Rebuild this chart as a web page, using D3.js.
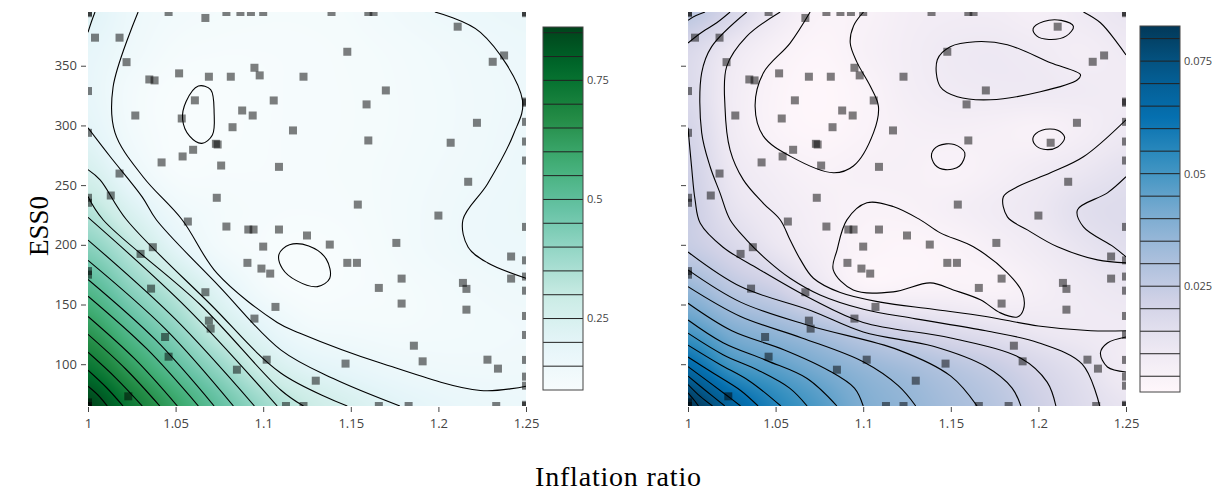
<!DOCTYPE html>
<html>
<head>
<meta charset="utf-8">
<script src="https://cdn.jsdelivr.net/npm/d3@7"></script>
<style>
  body { margin: 0; background: #fff; }
  svg { display: block; }
</style>
</head>
<body>
<svg id="chart" width="1212" height="492"></svg>
<script>
// ---- axes ----
const xDomain = [1, 1.25];
const yDomain = [65, 395];
const xTicks = [1, 1.05, 1.1, 1.15, 1.2, 1.25];
const yTicks = [100, 150, 200, 250, 300, 350];

// ---- response surfaces on a regular grid (rows: ESS0, cols: inflation ratio) ----
const gridX = [1.0, 1.025, 1.05, 1.075, 1.1, 1.125, 1.15, 1.175, 1.2, 1.225, 1.25];
const gridY = [65, 98, 131, 164, 197, 230, 263, 296, 329, 362, 395];

const zLeft = [
  [0.862, 0.728, 0.606, 0.488, 0.38, 0.297, 0.248, 0.21, 0.183, 0.167, 0.158],
  [0.74, 0.618, 0.499, 0.39, 0.275, 0.21, 0.18, 0.155, 0.143, 0.14, 0.142],
  [0.63, 0.51, 0.40, 0.28, 0.195, 0.135, 0.125, 0.12, 0.125, 0.13, 0.135],
  [0.525, 0.41, 0.31, 0.205, 0.125, 0.101, 0.106, 0.115, 0.125, 0.138, 0.147],
  [0.42, 0.32, 0.205, 0.13, 0.108, 0.099, 0.106, 0.122, 0.14, 0.153, 0.158],
  [0.33, 0.23, 0.148, 0.12, 0.11, 0.108, 0.112, 0.125, 0.14, 0.154, 0.162],
  [0.25, 0.16, 0.106, 0.106, 0.107, 0.11, 0.115, 0.123, 0.135, 0.147, 0.16],
  [0.20, 0.13, 0.099, 0.099, 0.106, 0.11, 0.113, 0.12, 0.13, 0.143, 0.155],
  [0.18, 0.125, 0.101, 0.101, 0.106, 0.11, 0.113, 0.12, 0.13, 0.142, 0.151],
  [0.185, 0.145, 0.115, 0.108, 0.108, 0.11, 0.115, 0.123, 0.135, 0.147, 0.157],
  [0.215, 0.155, 0.13, 0.12, 0.115, 0.115, 0.12, 0.135, 0.15, 0.16, 0.165]
];

const zRight = [
  [0.083, 0.068, 0.056, 0.048, 0.04, 0.036, 0.032, 0.028, 0.0225, 0.017, 0.013],
  [0.065, 0.051, 0.046, 0.0405, 0.0355, 0.032, 0.028, 0.024, 0.019, 0.0145, 0.009],
  [0.0475, 0.039, 0.0345, 0.0295, 0.0235, 0.019, 0.016, 0.0135, 0.011, 0.0098, 0.0095],
  [0.035, 0.027, 0.022, 0.0125, 0.0045, 0.0045, 0.005, 0.0045, 0.007, 0.01, 0.012],
  [0.0245, 0.019, 0.0125, 0.0075, 0.004, 0.003, 0.004, 0.0065, 0.0095, 0.013, 0.0155],
  [0.0235, 0.014, 0.0095, 0.0065, 0.0048, 0.0052, 0.0068, 0.009, 0.0115, 0.0155, 0.017],
  [0.022, 0.0115, 0.0072, 0.005, 0.0058, 0.006, 0.0048, 0.0065, 0.0092, 0.0118, 0.0145],
  [0.0202, 0.0095, 0.0042, 0.0025, 0.0042, 0.0062, 0.0068, 0.0062, 0.0052, 0.0075, 0.0105],
  [0.018, 0.009, 0.004, 0.002, 0.004, 0.0075, 0.0095, 0.0102, 0.0103, 0.0095, 0.009],
  [0.0185, 0.011, 0.0055, 0.003, 0.0055, 0.008, 0.0102, 0.0108, 0.0095, 0.008, 0.0098],
  [0.027, 0.0195, 0.0105, 0.0045, 0.005, 0.0075, 0.0085, 0.0085, 0.007, 0.01, 0.0125]
];

// colour bar ranges and labelled ticks
const leftRange = [0.10, 0.862];
const rightRange = [0.0015, 0.0828];
const leftLevels = d3.range(3, 18).map(k => k * 0.05);        // 0.15 ... 0.85
const rightLevels = d3.range(1, 17).map(k => k * 0.005);      // 0.005 ... 0.08
const leftBarTicks = [0.25, 0.5, 0.75];
const rightBarTicks = [0.025, 0.05, 0.075];

// ColorBrewer sequential stops
const bugn = ["#f7fcfd", "#e5f5f9", "#ccece6", "#99d8c9", "#66c2a4", "#41ae76", "#238b45", "#006d2c", "#00441b"];
const pubu = ["#fff7fb", "#ece7f2", "#d0d1e6", "#a6bddb", "#74a9cf", "#3690c0", "#0570b0", "#045a8d", "#023858"];

// ---- iso-lines (inflation ratio, ESS0) ----
const leftLines = [
  { level: 0.85, pts: [[1, 68], [1.001, 66.5], [1.002, 65]] },
  { level: 0.80, pts: [[1, 81.5], [1.0058, 74], [1.011, 65]] },
  { level: 0.75, pts: [[1, 95], [1.0105, 80.5], [1.020, 65]] },
  { level: 0.70, pts: [[1, 110], [1.0162, 88], [1.031, 65]] },
  { level: 0.65, pts: [[1, 125], [1.0215, 96], [1.041, 65]] },
  { level: 0.60, pts: [[1, 140], [1.027, 104], [1.051, 65]] },
  { level: 0.55, pts: [[1, 157], [1.0335, 113], [1.063, 65]] },
  { level: 0.50, pts: [[1, 171], [1.0385, 120.5], [1.072, 65]] },
  { level: 0.45, pts: [[1, 187], [1.0445, 129], [1.083, 65]] },
  { level: 0.40, pts: [[1, 204], [1.050, 137.5], [1.095, 65]] },
  { level: 0.35, pts: [[1, 223], [1.0565, 147], [1.108, 65]] },
  { level: 0.30, pts: [[1, 240.4], [1.0086, 221], [1.064, 150], [1.11, 78.4], [1.123, 65]] },
  { level: 0.25, pts: [[1, 263], [1.0069, 254.4], [1.022, 221], [1.07, 150], [1.11, 92.7], [1.148, 65]] },
  { level: 0.20, pts: [[1, 298], [1.0126, 274], [1.031, 240], [1.039, 221], [1.075, 165], [1.11, 112], [1.14, 88], [1.178, 65]] },
  { level: 0.20, pts: [[1, 378], [1.002, 387], [1.004, 395]] },
  { level: 0.15, pts: [[1.0286, 395], [1.0143, 332], [1.0154, 294], [1.0314, 257], [1.0537, 221], [1.0737, 176], [1.108, 135], [1.121, 126], [1.167, 101], [1.224, 78], [1.25, 81.6]] },
  { level: 0.15, pts: [[1.198, 395], [1.224, 378], [1.248, 321], [1.243, 293], [1.228, 251], [1.214, 221], [1.217, 198], [1.228, 185], [1.25, 172]] },
  { level: 0.10, closed: true, pts: [[1.054, 305], [1.056, 320], [1.063, 333], [1.070, 330], [1.072, 310], [1.071, 292], [1.065, 285], [1.058, 291]] },
  { level: 0.10, closed: true, pts: [[1.109, 192], [1.115, 200], [1.126, 199], [1.136, 188], [1.138, 172], [1.131, 165], [1.119, 170], [1.111, 180]] }
];

const rightLines = [
  { level: 0.08, pts: [[1, 76], [1.004, 69], [1.006, 65]] },
  { level: 0.075, pts: [[1, 83], [1.007, 73], [1.014, 65]] },
  { level: 0.07, pts: [[1, 90], [1.01, 78], [1.021, 65]] },
  { level: 0.065, pts: [[1, 98], [1.012, 85], [1.022, 74], [1.03, 65]] },
  { level: 0.06, pts: [[1, 106], [1.015, 92], [1.03, 78], [1.04, 65]] },
  { level: 0.055, pts: [[1, 116], [1.018, 100], [1.035, 86], [1.053, 65]] },
  { level: 0.05, pts: [[1, 126], [1.02, 108], [1.04, 95], [1.058, 80], [1.068, 65]] },
  { level: 0.045, pts: [[1, 137], [1.02, 118], [1.045, 103], [1.068, 88], [1.085, 65]] },
  { level: 0.04, pts: [[1, 151], [1.025, 128], [1.055, 112], [1.08, 95], [1.095, 80], [1.10, 65]] },
  { level: 0.035, pts: [[1, 165], [1.03, 140], [1.065, 122], [1.1, 102], [1.12, 82], [1.13, 65]] },
  { level: 0.03, pts: [[1, 179], [1.03, 152], [1.07, 132], [1.12, 112], [1.15, 90], [1.165, 65]] },
  { level: 0.025, pts: [[1, 194], [1.03, 165], [1.07, 145], [1.1, 127], [1.14, 115], [1.17, 98], [1.185, 80], [1.19, 65]] },
  { level: 0.02, pts: [[1, 298], [1.002, 266], [1.004, 238], [1.007, 218], [1.02, 198], [1.04, 180], [1.07, 155], [1.1, 135], [1.15, 122], [1.19, 105], [1.205, 85], [1.21, 65]] },
  { level: 0.015, pts: [[1.0335, 395], [1.0135, 366], [1.0078, 344], [1.0078, 294], [1.0126, 265.6], [1.0183, 243.3], [1.024, 221], [1.0335, 204], [1.045, 187.4], [1.0583, 172], [1.0754, 158], [1.1002, 146], [1.13, 138], [1.17, 128], [1.2, 118], [1.225, 100], [1.235, 65]] },
  { level: 0.01, pts: [[1.0526, 395], [1.0335, 374.6], [1.0221, 349.4], [1.0211, 315.9], [1.024, 279.6], [1.0316, 254.4], [1.043, 234.8], [1.0526, 221], [1.0583, 204], [1.064, 188], [1.0716, 172], [1.0869, 160], [1.1097, 152], [1.14, 146], [1.17, 140], [1.2, 132], [1.23, 128], [1.25, 128]] },
  { level: 0.005, pts: [[1.0697, 395], [1.0583, 369], [1.043, 344], [1.0383, 316], [1.043, 291], [1.0583, 274.3], [1.083, 260.4], [1.0944, 266], [1.1059, 294], [1.1087, 316], [1.104, 333], [1.0964, 353], [1.0926, 369], [1.0945, 383.4], [1.1002, 395]] },
  { level: 0.025, pts: [[1, 388], [1.0046, 392], [1.0097, 395]] },
  { level: 0.02, pts: [[1, 369], [1.0069, 377], [1.0164, 386], [1.024, 395]] },
  { level: 0.01, closed: true, pts: [[1.1423, 355], [1.1497, 365.9], [1.164, 370.1], [1.1823, 367.6], [1.2069, 352.5], [1.224, 342.5], [1.2223, 338.3], [1.2011, 328.2], [1.1726, 321.5], [1.1537, 324], [1.144, 332.4]] },
  { level: 0.005, closed: true, pts: [[1.197, 381], [1.203, 387], [1.213, 388], [1.22, 383], [1.216, 375], [1.206, 372], [1.199, 375]] },
  { level: 0.005, closed: true, pts: [[1.197, 290], [1.202, 296], [1.211, 296], [1.215, 290], [1.211, 282], [1.203, 280], [1.198, 284]] },
  { level: 0.005, closed: true, pts: [[1.139, 276], [1.143, 283], [1.152, 284], [1.158, 277], [1.155, 266], [1.147, 263], [1.141, 267]] },
  { level: 0.005, closed: true, pts: [[1.0907, 220.9], [1.1021, 235.2], [1.1171, 232.1], [1.1326, 220.9], [1.144, 210], [1.1629, 198.3], [1.1823, 176.5], [1.1909, 159.7], [1.1914, 145.5], [1.188, 139.6], [1.1783, 143], [1.1669, 153.9], [1.1514, 162.2], [1.1383, 168.1], [1.1171, 160.6], [1.0943, 162.2], [1.0829, 179], [1.0851, 195.8]] },
  { level: 0.01, pts: [[1.25, 304.7], [1.2257, 273.7], [1.2069, 260.3], [1.188, 248.6], [1.18, 240.2], [1.1823, 223.4], [1.1937, 212.5], [1.2109, 198.3], [1.2337, 187.4], [1.25, 184.9]] },
  { level: 0.015, pts: [[1.25, 257], [1.2394, 243.5], [1.2223, 229.3], [1.2257, 215], [1.2429, 198.3], [1.25, 189.9]] },
  { level: 0.01, pts: [[1.2257, 395], [1.2354, 386], [1.2451, 369], [1.25, 359]] },
  { level: 0.01, pts: [[1.25, 122.8], [1.2394, 117.8], [1.2354, 109.4], [1.2394, 97.7], [1.25, 93.5]] }
];

// ---- sampled design points (inflation ratio, ESS0) ----
const pointX = [
  1.0, 1.0, 1.046, 1.067, 1.079, 1.004, 1.018, 1.022, 1.035, 1.038, 1.052, 1.069, 1.0815, 1.0, 1.061,
  1.027, 1.0535, 1.0825, 1.0, 1.073, 1.074, 1.06, 1.054, 1.042, 1.076, 1.018, 1.013, 1.0, 1.0, 1.0735,
  1.057, 1.079, 1.037, 1.030, 1.0, 1.0, 1.036, 1.067, 1.069, 1.070, 1.044, 1.046, 1.023, 1.0, 1.0,
  1.087, 1.093, 1.100, 1.139, 1.160, 1.163, 1.148, 1.095, 1.098, 1.123, 1.106, 1.159, 1.088, 1.094, 1.117,
  1.160, 1.109, 1.154, 1.0915, 1.0945, 1.109, 1.125, 1.138, 1.100, 1.091, 1.099, 1.104, 1.148, 1.1535, 1.166,
  1.107, 1.095, 1.102, 1.085, 1.147, 1.130, 1.113, 1.123, 1.166,
  1.211, 1.2375, 1.231, 1.170, 1.25, 1.25, 1.222, 1.25, 1.207, 1.25, 1.25, 1.217, 1.200, 1.25, 1.176,
  1.2415, 1.25, 1.179, 1.214, 1.216, 1.2415, 1.25, 1.25, 1.179, 1.216, 1.25, 1.25, 1.186, 1.191, 1.228,
  1.234, 1.25, 1.25, 1.25, 1.183, 1.233, 1.25, 1.25, 1.25, 1.25
];
const pointY = [
  394, 395, 395, 390, 395, 373.5, 373.5, 353, 338.5, 337.7, 343.6, 340.8, 340.8, 328.8, 321,
  308.3, 305.8, 298.5, 293.8, 284.6, 284, 279.6, 274, 269, 266.4, 259.7, 241.3, 239.4, 235.2, 239.4,
  219.5, 215.3, 198, 192.4, 178, 175, 163.3, 160.3, 136.5, 129.8, 122.8, 106.3, 73.1, 65, 68,
  395, 395, 395, 395, 395, 395, 361.7, 348.3, 341.9, 340.8, 320.9, 317.6, 312.5, 308.3, 295.8,
  287.4, 265.3, 233.7, 212.8, 212.8, 212.8, 207.8, 200.2, 198.5, 184.9, 180.1, 175.9, 184.9, 184.9, 163.9,
  148, 138.2, 103.8, 95.4, 100.5, 86.2, 65, 65, 65,
  382.7, 358.6, 353.3, 329.3, 320, 319, 302.2, 303, 285.5, 286.5, 270.6, 252.8, 224.5, 215, 201.6,
  190.2, 187, 171.7, 168.1, 163.1, 171.7, 173.4, 161.6, 150.8, 145.7, 140.4, 124.5, 115.5, 102.4, 103.8,
  96.3, 103.6, 89.6, 82, 65, 65, 65, 66, 395, 394
];

// ---- layout ----
const plotTop = 12, plotBottom = 406, plotWidth = 438;
const panels = [
  { left: 88, z: zLeft, lines: leftLines, stops: bugn, range: leftRange, levels: leftLevels,
    barX: 543, barTop: 27, barBottom: 390, barTicks: leftBarTicks, yLabels: true, id: "l" },
  { left: 688, z: zRight, lines: rightLines, stops: pubu, range: rightRange, levels: rightLevels,
    barX: 1140, barTop: 26, barBottom: 392, barTicks: rightBarTicks, yLabels: false, id: "r" }
];

const svg = d3.select("#chart");
const tickFont = "'Open Sans', 'Noto Sans', sans-serif";
const ink = "#444";

function cubic(p0, p1, p2, p3, t) {
  return p1 + 0.5 * t * (p2 - p0 + t * (2 * p0 - 5 * p1 + 4 * p2 - p3 + t * (3 * (p1 - p2) + p3 - p0)));
}
function sampleGrid(grid, gx, gy) {
  const ny = grid.length, nx = grid[0].length;
  const cl = (v, n) => Math.max(0, Math.min(n - 1, v));
  const ix = Math.min(Math.floor(gx), nx - 2), iy = Math.min(Math.floor(gy), ny - 2);
  const tx = gx - ix, ty = gy - iy;
  const col = [];
  for (let m = -1; m <= 2; m++) {
    const row = grid[cl(iy + m, ny)];
    const v = [-1, 0, 1, 2].map(n => row[cl(ix + n, nx)]);
    col.push(cubic(v[0], v[1], v[2], v[3], tx));
  }
  return cubic(col[0], col[1], col[2], col[3], ty);
}

panels.forEach(p => {
  const x = d3.scaleLinear().domain(xDomain).range([p.left, p.left + plotWidth]);
  const y = d3.scaleLinear().domain(yDomain).range([plotBottom, plotTop]);
  const gxScale = d3.scaleLinear().domain([gridX[0], gridX[gridX.length - 1]]).range([0, gridX.length - 1]);
  const gyScale = d3.scaleLinear().domain([gridY[0], gridY[gridY.length - 1]]).range([0, gridY.length - 1]);
  const norm = d3.scaleLinear().domain(p.range).range([0, 1]).clamp(true);
  const stopScale = d3.scaleLinear().domain(d3.range(p.stops.length).map(i => i / (p.stops.length - 1))).range(p.stops).interpolate(d3.interpolateRgb);
  const colour = v => stopScale(norm(v));

  // filled surface rendered into an image
  const w = plotWidth, h = plotBottom - plotTop;
  const canvas = document.createElement("canvas");
  canvas.width = w; canvas.height = h;
  const ctx = canvas.getContext("2d");
  const img = ctx.createImageData(w, h);
  for (let j = 0; j < h; j++) {
    const yv = y.invert(plotTop + j + 0.5);
    for (let i = 0; i < w; i++) {
      const xv = x.invert(p.left + i + 0.5);
      const zv = sampleGrid(p.z, gxScale(xv), gyScale(yv));
      const c = d3.rgb(colour(zv));
      const k = (j * w + i) * 4;
      img.data[k] = c.r; img.data[k + 1] = c.g; img.data[k + 2] = c.b; img.data[k + 3] = 255;
    }
  }
  ctx.putImageData(img, 0, 0);

  const clipId = "clip-" + p.id;
  svg.append("clipPath").attr("id", clipId)
    .append("rect").attr("x", p.left).attr("y", plotTop).attr("width", w).attr("height", h);

  const g = svg.append("g").attr("clip-path", `url(#${clipId})`);
  g.append("image").attr("x", p.left).attr("y", plotTop).attr("width", w).attr("height", h)
    .attr("preserveAspectRatio", "none").attr("href", canvas.toDataURL());

  const openLine = d3.line().x(d => x(d[0])).y(d => y(d[1])).curve(d3.curveCatmullRom.alpha(0.5));
  const closedLine = d3.line().x(d => x(d[0])).y(d => y(d[1])).curve(d3.curveCatmullRomClosed.alpha(0.5));
  g.selectAll("path.iso").data(p.lines).join("path").attr("class", "iso")
    .attr("d", d => (d.closed ? closedLine : openLine)(d.pts))
    .attr("fill", "none").attr("stroke", "#000").attr("stroke-width", 1.1);

  g.selectAll("rect.pt").data(d3.range(pointX.length)).join("rect").attr("class", "pt")
    .attr("x", i => x(pointX[i]) - 4).attr("y", i => y(pointY[i]) - 4)
    .attr("width", 8).attr("height", 8)
    .attr("fill", "#000").attr("fill-opacity", 0.5);

  // axes
  const xa = svg.append("g").attr("transform", `translate(0,${plotBottom + 1})`)
    .call(d3.axisBottom(x).tickValues(xTicks).tickSize(5).tickPadding(7).tickFormat(d => String(+d.toFixed(2))));
  xa.select(".domain").remove();
  xa.selectAll("line").attr("stroke", ink);
  xa.selectAll("text").attr("fill", ink).attr("font-family", tickFont).attr("font-size", 13);

  const ya = svg.append("g").attr("transform", `translate(${p.left - 2},0)`)
    .call(d3.axisLeft(y).tickValues(yTicks).tickSize(5).tickPadding(4).tickFormat(p.yLabels ? d3.format("d") : () => ""));
  ya.select(".domain").remove();
  ya.selectAll("line").attr("stroke", ink);
  ya.selectAll("text").attr("fill", ink).attr("font-family", tickFont).attr("font-size", 13);

  // colour bar
  const barW = 40;
  const bar = d3.scaleLinear().domain(p.range).range([p.barBottom, p.barTop]);
  const gradId = "grad-" + p.id;
  const grad = svg.append("defs").append("linearGradient").attr("id", gradId)
    .attr("x1", 0).attr("y1", 1).attr("x2", 0).attr("y2", 0);
  d3.range(0, 1.0001, 0.05).forEach(t => {
    grad.append("stop").attr("offset", t).attr("stop-color", colour(p.range[0] + t * (p.range[1] - p.range[0])));
  });
  svg.append("rect").attr("x", p.barX).attr("y", p.barTop).attr("width", barW).attr("height", p.barBottom - p.barTop)
    .attr("fill", `url(#${gradId})`);
  svg.append("g").selectAll("line").data(p.levels.filter(v => v > p.range[0] && v < p.range[1])).join("line")
    .attr("x1", p.barX).attr("x2", p.barX + barW).attr("y1", d => bar(d)).attr("y2", d => bar(d))
    .attr("stroke", "#222").attr("stroke-width", 1);
  svg.append("rect").attr("x", p.barX).attr("y", p.barTop).attr("width", barW).attr("height", p.barBottom - p.barTop)
    .attr("fill", "none").attr("stroke", ink).attr("stroke-width", 1);
  svg.append("g").selectAll("text").data(p.barTicks).join("text")
    .attr("x", p.barX + barW + 4).attr("y", d => bar(d)).attr("dy", "0.35em")
    .attr("fill", ink).attr("font-family", tickFont).attr("font-size", 11)
    .text(d => String(d));
});

// axis titles
svg.append("text").attr("transform", "translate(48,226) rotate(-90)")
  .attr("text-anchor", "middle").attr("font-family", "'Liberation Serif', 'DejaVu Serif', serif")
  .attr("font-size", 27).attr("fill", "#000").text("ESS0");
svg.append("text").attr("x", 618).attr("y", 486)
  .attr("text-anchor", "middle").attr("font-family", "'Liberation Serif', 'DejaVu Serif', serif")
  .attr("font-size", 28).attr("textLength", 166).attr("lengthAdjust", "spacing")
  .attr("fill", "#000").text("Inflation ratio");
</script>
</body>
</html>
